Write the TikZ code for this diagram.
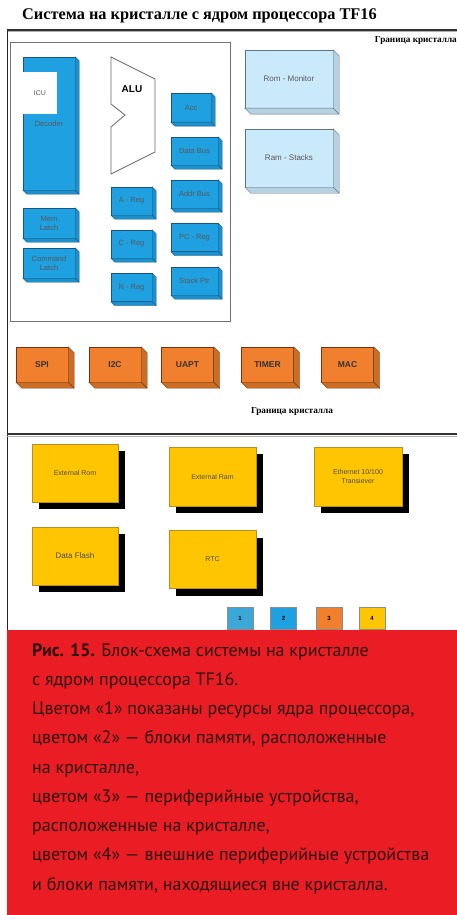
\documentclass[tikz,border=0pt]{standalone}
\usepackage{fontspec}
\setmainfont{Liberation Serif}
\setsansfont{Liberation Sans}
\newfontfamily\capfont{PT Sans}
\usetikzlibrary{calc,shadows}

\definecolor{cpublue}{RGB}{30,160,225}
\definecolor{cpuedge}{RGB}{25,85,130}
\definecolor{memblue}{RGB}{202,233,250}
\definecolor{memedge}{RGB}{95,115,135}
\definecolor{perorange}{RGB}{240,128,45}
\definecolor{peredge}{RGB}{110,55,20}
\definecolor{extyellow}{RGB}{255,198,0}
\definecolor{extedge}{RGB}{185,140,40}
\definecolor{legblue}{RGB}{60,168,215}
\definecolor{capred}{RGB}{234,28,36}
\definecolor{captext}{RGB}{45,18,18}

\tikzset{
	cpubox/.style={draw=cpuedge,fill=cpublue,inner sep=0pt,align=center,text=black!65,font=\sffamily\fontsize{7.5}{9}\selectfont},
	membox/.style={draw=memedge,fill=memblue,inner sep=0pt,align=center,text=black!65,font=\sffamily\fontsize{8}{9}\selectfont},
	perbox/.style={draw=peredge,fill=perorange,inner sep=0pt,text=black!80,font=\sffamily\bfseries\fontsize{8.5}{10}\selectfont},
	extbox/.style={draw=extedge,fill=extyellow,inner sep=0pt,align=center,text=black!70,font=\sffamily\fontsize{7}{8.5}\selectfont,
		drop shadow={shadow xshift=7pt,shadow yshift=-7pt,fill=black,opacity=1}},
	legbox/.style={draw=black!45,minimum width=26,minimum height=22,inner sep=0pt,font=\sffamily\bfseries\fontsize{6}{7}\selectfont},
	border/.style={draw=black!55,line width=0.9pt},
	rule/.style={black!80,line width=1.5pt},
	chiplabel/.style={font=\bfseries\fontsize{9.2}{11}\selectfont,inner sep=0pt},
	captext/.style={font=\capfont\fontsize{18}{22}\selectfont,text=captext,inner sep=0pt,anchor=base west}
}

% depth faces to the right and below a box node
\newcommand{\extrude}[4]{%
	\filldraw[fill=#3,draw=#4] (#1.north east) -- ++(#2,#2) -- ($(#1.south east)+(#2,#2)$)
		-- ($(#1.south west)+(#2,#2)$) -- (#1.south west) -- (#1.south east) -- cycle;
	\draw[#4] (#1.south east) -- ++(#2,#2);
}

\begin{document}
\begin{tikzpicture}[x=1pt,y=-1pt]
	\useasboundingbox (0,0) rectangle (457,915);

	% title and chip boundary
	\node[font=\bfseries\fontsize{16.3}{18}\selectfont,anchor=west,inner sep=0pt] (title) at (22,16) {Система на кристалле с ядром процессора TF16};
	\draw[rule] (7,30) -- (457,30);
	\draw[black!30,line width=1pt] (7,32) -- (457,32);
	\draw[black!85,line width=0.8pt] (7,30) -- (7,915);
	\node[chiplabel,anchor=east] (bound1) at (457,40) {Граница кристалла};

	% processor core
	\draw[border] (10,42) rectangle (230,321);
	\node[cpubox,minimum width=52,minimum height=133] (dec) at (49,123.5) {Decoder};
	\node[fill=white,minimum width=34,minimum height=42,inner sep=0pt,text=black!65,font=\sffamily\fontsize{7}{8}\selectfont] (icu) at (40,93) {ICU};
	\node[cpubox,minimum width=52,minimum height=30] (mem) at (49,223) {Mem\\Latch};
	\node[cpubox,minimum width=52,minimum height=30] (cmd) at (49,263) {Command\\Latch};

	\draw[black!60,line width=0.8pt,fill=white] (111,57) -- (155,79) -- (155,152) -- (111,174)
		-- (111,127) -- (125,115) -- (111,104) -- cycle;
	\node[font=\sffamily\bfseries\fontsize{10}{12}\selectfont] (alu) at (132,89) {ALU};

	\node[cpubox,minimum width=41,minimum height=28] (areg) at (131.5,201) {A - Reg};
	\node[cpubox,minimum width=41,minimum height=28] (creg) at (131.5,244) {C - Reg};
	\node[cpubox,minimum width=41,minimum height=28] (nreg) at (131.5,287.5) {N - Reg};

	\node[cpubox,minimum width=40,minimum height=29] (acc) at (191,107.5) {Acc};
	\node[cpubox,minimum width=47,minimum height=28] (dbus) at (194.5,151) {Data Bus};
	\node[cpubox,minimum width=47,minimum height=28] (abus) at (194.5,194) {Addr Bus};
	\node[cpubox,minimum width=47,minimum height=28] (pcreg) at (194.5,237.5) {PC - Reg};
	\node[cpubox,minimum width=47,minimum height=28] (sptr) at (194.5,281) {Stack Ptr};

	\foreach \n in {dec,mem,cmd,areg,creg,nreg,acc,dbus,abus,pcreg,sptr}
		{\extrude{\n}{4}{cpublue!90!black}{cpuedge}}

	% on-chip memory
	\node[membox,minimum width=88,minimum height=58] (rom) at (289,79) {Rom - Monitor};
	\node[membox,minimum width=88,minimum height=58] (ram) at (289,158) {Ram - Stacks};
	\foreach \n in {rom,ram}
		{\extrude{\n}{6}{memblue!90!black}{memedge}}

	% on-chip peripherals
	\node[perbox,minimum width=52,minimum height=35] (spi) at (42,364.5) {SPI};
	\node[perbox,minimum width=52,minimum height=35] (iic) at (115,364.5) {I2C};
	\node[perbox,minimum width=52,minimum height=35] (uapt) at (187.5,364.5) {UAPT};
	\node[perbox,minimum width=52,minimum height=35] (timer) at (267.5,364.5) {TIMER};
	\node[perbox,minimum width=52,minimum height=35] (mac) at (347.5,364.5) {MAC};
	\foreach \n in {spi,iic,uapt,timer,mac}
		{\extrude{\n}{6}{perorange!85!black}{peredge}}

	\node[chiplabel] (bound2) at (292,411) {Граница кристалла};
	\draw[rule] (7,434) -- (457,434);
	\draw[black!30,line width=1pt] (7,436) -- (457,436);

	% external devices
	\node[extbox,minimum width=86,minimum height=58] (exrom) at (75,473) {External Rom};
	\node[extbox,minimum width=87,minimum height=59] (exram) at (212.5,476.5) {External Ram};
	\node[extbox,minimum width=88,minimum height=59] (eth) at (358,476.5) {Ethernet 10/100\\Transiever};
	\node[extbox,minimum width=86,minimum height=58,font=\sffamily\fontsize{8}{9}\selectfont] (flash) at (75,556) {Data Flash};
	\node[extbox,minimum width=87,minimum height=58] (rtc) at (212.5,559.5) {RTC};

	% colour key
	\node[legbox,fill=legblue] (key1) at (240,618) {1};
	\node[legbox,fill=cpublue] (key2) at (283.5,618) {2};
	\node[legbox,fill=perorange] (key3) at (329,618) {3};
	\node[legbox,fill=extyellow] (key4) at (372,618) {4};

	% caption
	\fill[capred] (7.4,630) rectangle (457,915);
	\foreach \ln [count=\i] in {
		{\textbf{Рис. 15.} Блок-схема системы на кристалле},
		{с ядром процессора TF16.},
		{Цветом «1» показаны ресурсы ядра процессора,},
		{цветом «2» — блоки памяти, расположенные},
		{на кристалле,},
		{цветом «3» — периферийные устройства,},
		{расположенные на кристалле,},
		{цветом «4» — внешние периферийные устройства},
		{и блоки памяти, находящиеся вне кристалла.}}
		\node[captext] (cap\i) at (32,{656+29.25*(\i-1)}) {\ln};
\end{tikzpicture}
\end{document}
